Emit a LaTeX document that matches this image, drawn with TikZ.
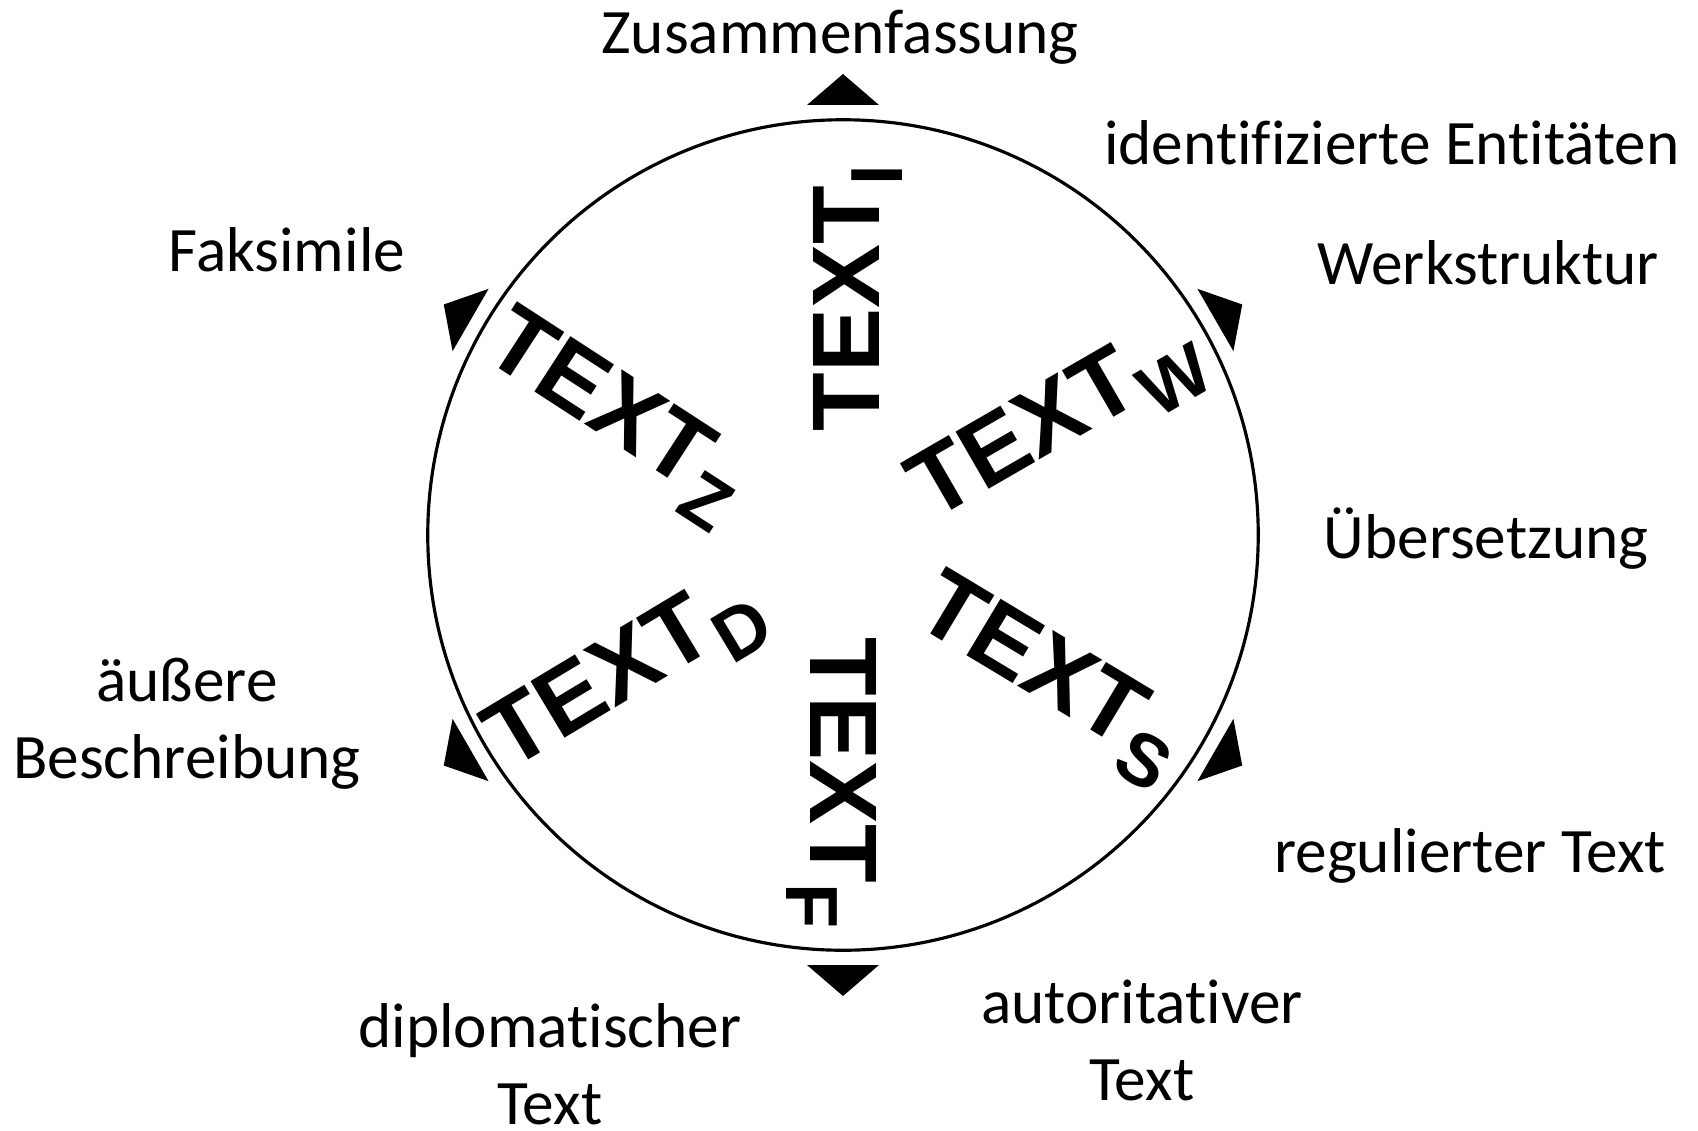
\documentclass[tikz,border=0pt]{standalone}
\usepackage{fontspec}
\setmainfont{Carlito}[Ligatures={NoCommon}]
\newfontfamily\arialfam{Liberation Sans}
\newcommand{\txsub}[1]{\raisebox{-6.8pt}{\fontsize{21pt}{21pt}\selectfont #1}}
\tikzset{
  lbl/.style={font=\fontsize{18pt}{21.9pt}\selectfont, inner sep=0pt, align=center, anchor=base},
  bigtext/.style={font=\arialfam\bfseries\fontsize{27.3pt}{27.3pt}\selectfont, inner sep=0pt, anchor=base west},
  marker/.style={fill=black},
  ringstyle/.style={draw, circle, minimum size=8.3cm, inner sep=0pt, line width=0.9pt}
}
\begin{document}
\begin{tikzpicture}[x=0.01cm, y=0.01cm]
\useasboundingbox (-843,-595) rectangle (855,535);
\node[ringstyle] (ring) at (0,0) {};
% triangles
\foreach \a in {90,150,210,270,330,30}{
  \fill[marker, rotate=\a] (461,0) -- (430,36) -- (430,-36) -- cycle;
}
% TEXT labels
\node[bigtext, rotate=90]  (ti) at (36,103)   {TEXT\txsub{I}};
\node[bigtext, rotate=-90] (tf) at (-33,-102) {TEXT\txsub{F}};
\node[bigtext, rotate=30]  (tw) at (89,13)    {TEXT\txsub{W}};
\node[bigtext, rotate=-31] (ts) at (68,-87)   {TEXT\txsub{S}};
\node[bigtext, rotate=31]  (td) at (-334,-237){TEXT\txsub{D}};
\node[bigtext, rotate=-33] (tz) at (-363,179) {TEXT\txsub{Z}};
% outer labels
\node[lbl] (zus) at (-3,481) {Zusammenfassung};
\node[lbl] (ide) at (549,370) {identifizierte Entitäten};
\node[lbl] (wer) at (645,251) {Werkstruktur};
\node[lbl] (ueb) at (643,-23) {Übersetzung};
\node[lbl] (reg) at (627,-337) {regulierter Text};
\node[lbl] (aut) at (299,-565) {autoritativer\\Text};
\node[lbl] (dip) at (-293,-589) {diplomatischer\\Text};
\node[lbl] (fak) at (-556,264) {Faksimile};
\node[lbl] (aeu) at (-656,-243) {äußere\\Beschreibung};
\end{tikzpicture}
\end{document}
